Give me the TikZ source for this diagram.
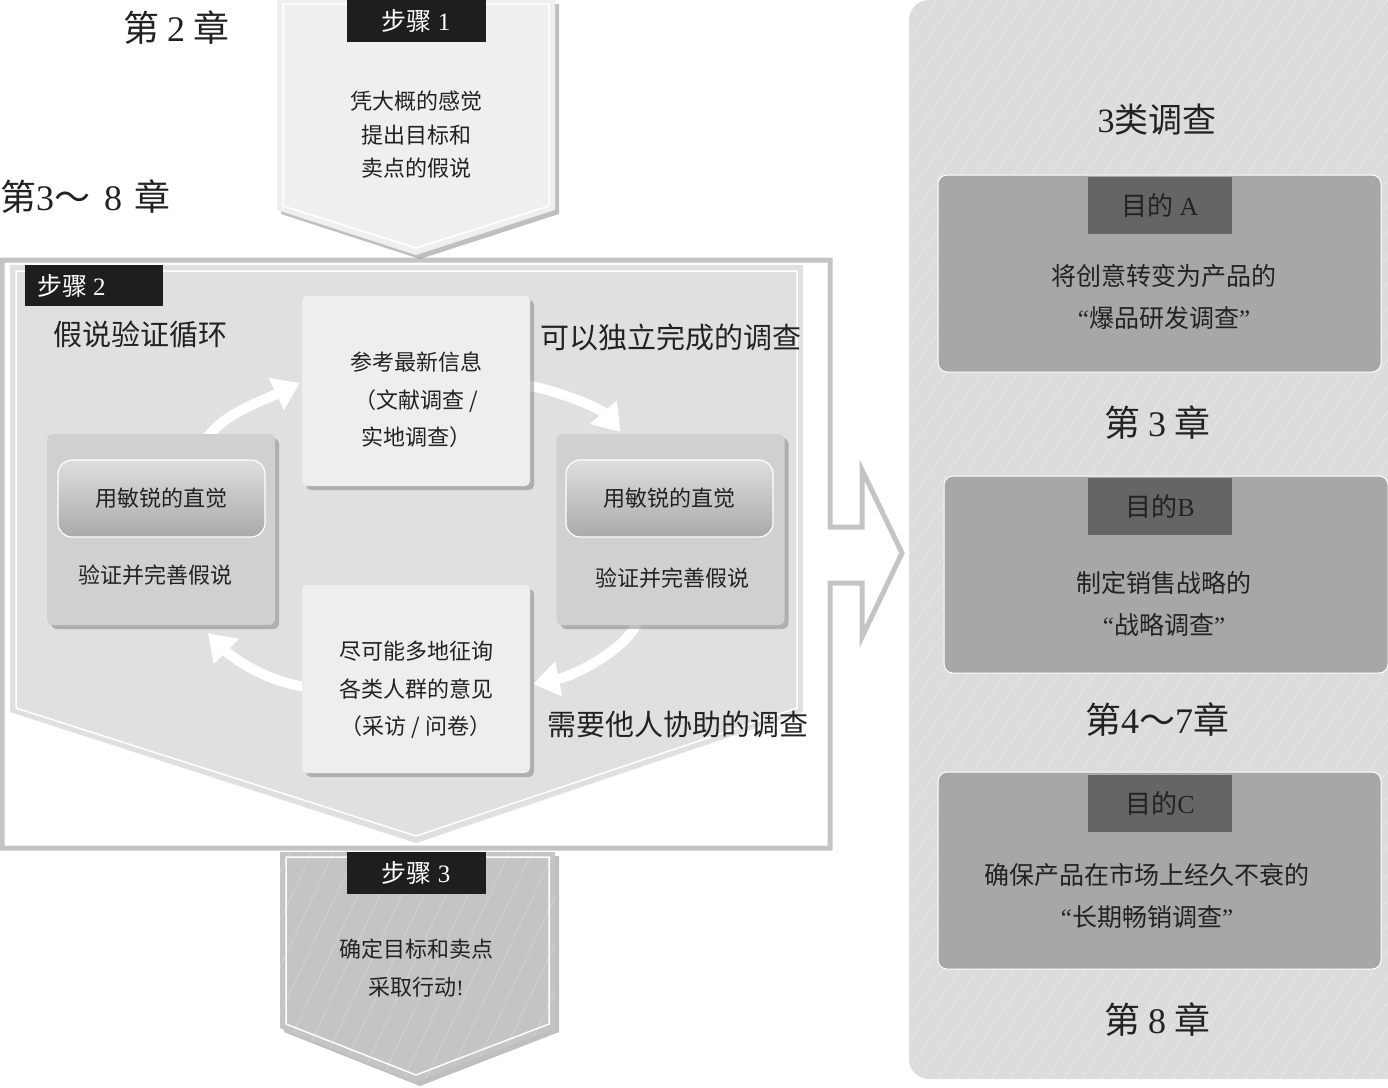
\documentclass[tikz,border=0pt]{standalone}
\usepackage{fontspec}
\setmainfont{Noto Sans CJK SC}
\newfontfamily\lat{Liberation Serif}
\usetikzlibrary{shadows,arrows.meta}
\pgfdeclarelayer{bg}
\pgfdeclarelayer{arr}
\pgfsetlayers{bg,arr,main}
\definecolor{txt}{HTML}{222222}
\definecolor{framegray}{HTML}{C4C4C4}
\definecolor{pentlight}{HTML}{EFEFEF}
\definecolor{pentmid}{HTML}{E0E0E0}
\definecolor{stepthree}{HTML}{C4C4C4}
\definecolor{panelgray}{HTML}{DCDCDC}
\definecolor{purpfill}{HTML}{A7A7A7}
\definecolor{purplabel}{HTML}{656565}
\definecolor{labblack}{HTML}{1E1E1E}
\definecolor{cyclefill}{HTML}{EEEEEE}
\definecolor{sidefill}{HTML}{D0D0D0}
\definecolor{pilltop}{HTML}{DEDEDE}
\definecolor{pillbot}{HTML}{AAAAAA}
\tikzset{
 chap/.style={font=\fontsize{36}{40}\selectfont, text=txt, inner sep=0pt},
 head/.style={font=\fontsize{29}{32}\selectfont, text=txt, inner sep=0pt},
 boxtxt/.style={font=\fontsize{22}{37.5}\selectfont, text=txt, align=center, inner sep=0pt},
 steptxt/.style={font=\fontsize{22}{33.5}\selectfont, text=txt, align=center, inner sep=0pt},
 steplab/.style={fill=labblack, text=white, font=\fontsize{25}{28}\selectfont, minimum width=139pt, minimum height=42pt, inner sep=0pt},
 softshadow/.style={drop shadow={shadow xshift=4pt, shadow yshift=-4pt, opacity=.5}},
 cyclebox/.style={fill=cyclefill, rounded corners=5pt, minimum width=228pt, inner sep=0pt, softshadow},
 sidebox/.style={fill=sidefill, rounded corners=6pt, minimum width=228pt, minimum height=191pt, inner sep=0pt, softshadow},
 pill/.style={top color=pilltop, bottom color=pillbot, draw=white, line width=1.2pt, rounded corners=14pt, minimum width=207pt, minimum height=77pt, inner sep=0pt, font=\fontsize{22}{26}\selectfont, text=txt},
 purpbox/.style={fill=purpfill, draw=white, line width=1pt, rounded corners=9pt, minimum width=443pt, minimum height=197pt, inner sep=0pt},
 purplab/.style={fill=purplabel, minimum width=144pt, minimum height=57pt, inner sep=0pt, font=\fontsize{26}{30}\selectfont, text=txt},
 purptxt/.style={font=\fontsize{25}{42}\selectfont, text=txt, align=center, inner sep=0pt},
 loop/.style={draw=white, line width=10pt, -{Triangle[width=34pt,length=26pt]}},
}
\begin{document}
\begin{tikzpicture}[x=1pt,y=-1pt]
\useasboundingbox (0,0) rectangle (1388,1087);

% ---------- background layer: panels and chevrons ----------
\begin{pgfonlayer}{bg}
% right panel
\path[fill=panelgray, rounded corners=20pt] (909,0) rectangle (1410,1079);
\begin{scope}
 \clip[rounded corners=20pt] (909,0) rectangle (1410,1079);
 \foreach \i in {0,...,72}{
   \draw[white, opacity=.3, line width=0.8pt] (140+\i*18,1087) -- (140+\i*18+761,0);
 }
\end{scope}

% step 2 frame with big arrow
\draw[framegray, line width=5pt, fill=white, line join=miter]
 (2,260) -- (830,260) -- (830,527) -- (862,527) -- (862,470) -- (902,553)
 -- (862,637) -- (862,583) -- (830,583) -- (830,848) -- (2,848) -- cycle;
% step 2 chevron
\path[fill=pentmid] (10,265) -- (803,265) -- (803,712) -- (416,843) -- (10,712) -- cycle;
\draw[white, line width=1.5pt] (16,271) -- (797,271) -- (797,708) -- (416,836) -- (16,708) -- cycle;

% step 1 chevron
\path[fill=pentlight, softshadow] (277,0) -- (555,0) -- (555,210) -- (416,255) -- (277,210) -- cycle;
\draw[white, line width=1.5pt] (283,4) -- (549,4) -- (549,206) -- (416,248) -- (283,206) -- cycle;

% step 3 chevron
\path[fill=stepthree, softshadow] (280,852) -- (555,852) -- (555,1028) -- (416,1082) -- (280,1028) -- cycle;
\begin{scope}
 \clip (280,852) -- (555,852) -- (555,1028) -- (416,1082) -- (280,1028) -- cycle;
 \foreach \i in {0,...,30}{
   \draw[white, opacity=.28, line width=0.7pt] (180+\i*22,1087) -- (180+\i*22+110,852);
 }
\end{scope}
\draw[white, line width=1.5pt] (286,857) -- (549,857) -- (549,1024) -- (416,1075) -- (286,1024) -- cycle;
\end{pgfonlayer}

% ---------- chapter labels ----------
\node[chap] (ch2) at (176,28) {第\hspace{8pt}{\lat 2}\hspace{8pt}章};
\node[chap, anchor=west] (ch38) at (0,197) {第{\lat 3}～\hspace{14pt}{\lat 8}\hspace{12pt}章};

% ---------- step labels and texts ----------
\node[steplab] (s1) at (416,21) {步骤\hspace{6pt}{\lat 1}};
\node[steptxt] (s1t) at (416,135) {凭大概的感觉\\提出目标和\\卖点的假说};

\node[steplab, minimum width=138pt, minimum height=41pt, anchor=north west] (s2) at (25,265) {};
\node[font=\fontsize{25}{28}\selectfont, text=white, anchor=west, inner sep=0pt] (s2t) at ([xshift=12pt]s2.west) {步骤\hspace{6pt}{\lat 2}};

\node[steplab] (s3) at (416,872.5) {步骤\hspace{6pt}{\lat 3}};
\node[boxtxt, font=\fontsize{22}{38}\selectfont] (s3t) at (416,968) {确定目标和卖点\\采取行动{\lat !}};

% ---------- cycle ----------
\node[head] (cyc) at (140,334) {假说验证循环};
\node[head] (self) at (671,337) {可以独立完成的调查};
\node[head] (help) at (678,724) {需要他人协助的调查};

\node[cyclebox, minimum height=190pt] (tbox) at (416,391) {};
\node[boxtxt] (tboxt) at (416,400) {参考最新信息\\（文献调查 /\\实地调查）};
\node[cyclebox, minimum height=188pt] (bbox) at (416,679) {};
\node[boxtxt] (bboxt) at (416,690) {尽可能多地征询\\各类人群的意见\\（采访 / 问卷）};

\node[sidebox] (lbox) at (161,529.5) {};
\node[pill] (lpill) at (161.5,498.5) {用敏锐的直觉};
\node[boxtxt] (lboxt) at (155,575) {验证并完善假说};

\node[sidebox] (rbox) at (670.5,529.5) {};
\node[pill] (rpill) at (669.5,498.5) {用敏锐的直觉};
\node[boxtxt] (rboxt) at (672,578) {验证并完善假说};

\begin{pgfonlayer}{arr}
\draw[loop] ([xshift=45pt,yshift=-6pt]lbox.north) .. controls +(15,-25) and +(-38,18) .. ([xshift=-2pt,yshift=8pt]tbox.west);
\draw[loop] ([xshift=-5pt,yshift=6pt]tbox.east) .. controls +(30,5) and +(-22,-25) .. ([xshift=-50pt,yshift=2pt]rbox.north);
\draw[loop] ([xshift=-32pt,yshift=5pt]rbox.south) .. controls +(-12,30) and +(40,-8) .. ([xshift=3pt,yshift=-5pt]bbox.east);
\draw[loop] ([xshift=5pt,yshift=-8pt]bbox.west) .. controls +(-40,-5) and +(25,25) .. ([xshift=47pt,yshift=-8pt]lbox.south);
\end{pgfonlayer}

% ---------- right panel ----------
\node[chap, font=\fontsize{34}{38}\selectfont] (kinds) at (1157,120) {{\lat 3}类调查};

\node[purpbox] (pa) at (1159.5,273.5) {};
\node[purplab] (pal) at (1160,205.5) {目的\hspace{6pt}{\lat A}};
\node[purptxt] (pat) at (1164,296.5) {将创意转变为产品的\\{\lat “}爆品研发调查{\lat ”}};

\node[chap] (ch3) at (1157,423) {第\hspace{8pt}{\lat 3}\hspace{8pt}章};

\node[purpbox, minimum width=444pt] (pb) at (1166,574.5) {};
\node[purplab] (pbl) at (1160,506) {目的{\lat B}};
\node[purptxt] (pbt) at (1164,604) {制定销售战略的\\{\lat “}战略调查{\lat ”}};

\node[chap] (ch47) at (1157,720) {第{\lat 4}～{\lat 7}章};

\node[purpbox] (pc) at (1159.5,870.5) {};
\node[purplab] (pcl) at (1160,803.5) {目的{\lat C}};
\node[purptxt] (pct) at (1147,895.5) {确保产品在市场上经久不衰的\\{\lat “}长期畅销调查{\lat ”}};

\node[chap] (ch8) at (1157,1020) {第\hspace{8pt}{\lat 8}\hspace{8pt}章};
\end{tikzpicture}
\end{document}
